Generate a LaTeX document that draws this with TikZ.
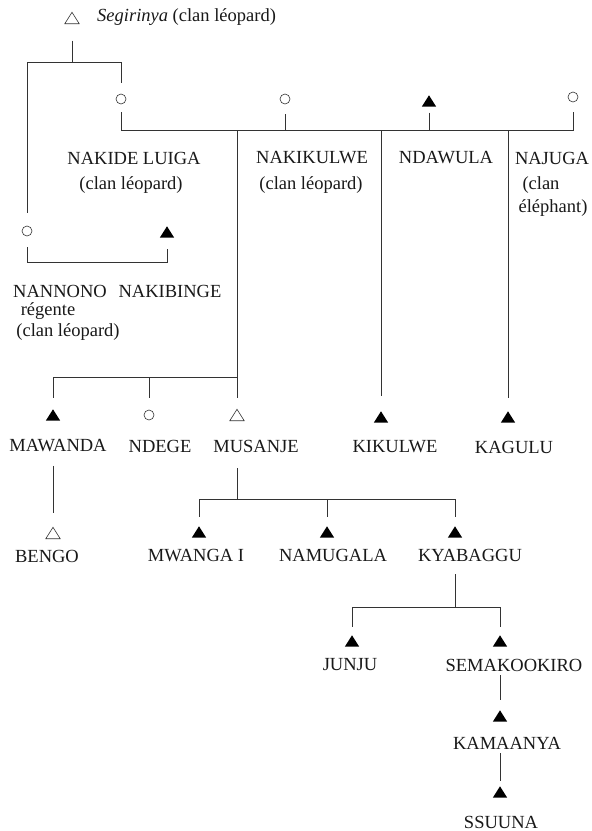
\documentclass[tikz,border=0pt]{standalone}
\usepackage{fontspec}
\setmainfont{Liberation Serif}
\newcommand\labfont{\fontsize{18.5}{22}\selectfont}
\begin{document}
\begin{tikzpicture}[x=1pt,y=-1pt,
  ln/.style={line width=0.9pt, draw=black!80},
  sym/.style={rectangle, minimum width=14pt, minimum height=11pt, inner sep=0pt},
  circ/.style={circle, draw=black!80, line width=0.6pt, minimum size=10pt, inner sep=0pt},
  lab/.style={font=\labfont, inner sep=0pt, text=black!90}]
\useasboundingbox (0,0) rectangle (592,831);
\fill[white] (0,0) rectangle (592,831);

% ---- symbols ----
\node[sym] (segT) at (72,18) {};
\node[circ] (nakideC) at (121,99) {};
\node[circ] (nakikC) at (285,99) {};
\node[sym] (ndawT) at (429,101) {};
\node[circ] (najugaC) at (573,97) {};
\node[circ] (nannonoC) at (27,231) {};
\node[sym] (nakibT) at (167,232) {};
\node[sym] (mawT) at (53,415) {};
\node[circ] (ndegeC) at (149,415) {};
\node[sym] (musT) at (237,415) {};
\node[sym] (kikT) at (381,417) {};
\node[sym] (kagT) at (508,417) {};
\node[sym] (bengoT) at (53,533) {};
\node[sym] (mwaT) at (199,532) {};
\node[sym] (namT) at (327,532) {};
\node[sym] (kyaT) at (455,532) {};
\node[sym] (junT) at (352,641) {};
\node[sym] (semT) at (500,641) {};
\node[sym] (kamT) at (500,716) {};
\node[sym] (ssT) at (500,792) {};

\foreach \n in {segT,musT,bengoT}
  \draw[line width=0.6pt, black!80, line join=miter] (\n.south west) -- (\n.south east) -- (\n.north) -- cycle;
\foreach \n in {ndawT,nakibT,mawT,kikT,kagT,mwaT,namT,kyaT,junT,semT,kamT,ssT}
  \fill[black] (\n.south west) -- (\n.south east) -- (\n.north) -- cycle;

% ---- labels ----
\node[lab, anchor=west] (segL) at (97,17) {\textit{Segirinya} (clan léopard)};
\node[lab] (nakideL) at (134,158) {NAKIDE LUIGA};
\node[lab] (nakideL2) at (131,185) {(clan léopard)};
\node[lab] (nakikL) at (312,158) {NAKIKULWE};
\node[lab] (nakikL2) at (311,185) {(clan léopard)};
\node[lab] (ndawL) at (446,158) {NDAWULA};
\node[lab] (najugaL) at (552,158) {NAJUGA};
\node[lab] (najugaL2) at (541,185) {(clan};
\node[lab] (najugaL3) at (553,208) {éléphant)};
\node[lab] (nannonoL) at (60,291) {NANNONO};
\node[lab] (nakibL) at (170,291) {NAKIBINGE};
\node[lab] (nannonoL2) at (48,311) {régente};
\node[lab] (nannonoL3) at (68,332) {(clan léopard)};
\node[lab] (mawL) at (58,446) {MAWANDA};
\node[lab] (ndegeL) at (160,446) {NDEGE};
\node[lab] (musL) at (256,446) {MUSANJE};
\node[lab] (kikL) at (395,447) {KIKULWE};
\node[lab] (kagL) at (514,447) {KAGULU};
\node[lab] (bengoL) at (47,556) {BENGO};
\node[lab] (mwaL) at (196,556) {MWANGA I};
\node[lab] (namL) at (333,555) {NAMUGALA};
\node[lab] (kyaL) at (470,555) {KYABAGGU};
\node[lab] (junL) at (350,665) {JUNJU};
\node[lab] (semL) at (514,665) {SEMAKOOKIRO};
\node[lab] (kamL) at (507,743) {KAMAANYA};
\node[lab] (ssL) at (501,822) {SSUUNA};

% ---- junctions ----
\coordinate (j0) at (72,62);
\coordinate (j1) at (237,130);
\coordinate (j2) at (237,377);
\coordinate (j3) at (237,499);
\coordinate (j4) at (455,607);
\coordinate (j5) at (97,262);

% ---- connectors ----
\draw[ln, shorten <=17pt] (segT) -- (j0);
\draw[ln, shorten >=13pt] (j0) -| (nannonoC);
\draw[ln, shorten >=11pt] (j0) -| (nakideC);
\draw[ln, shorten <=8pt, shorten >=10pt] (nakideC) |- (j1 -| najugaC) -- (najugaC);
\draw[ln, shorten <=10pt] (nakikC) -- (nakikC |- j1);
\draw[ln, shorten <=6pt] (ndawT) -- (ndawT |- j1);
\draw[ln, shorten <=11pt, shorten >=11pt] (nannonoC) |- (j5 -| nakibT) -- (nakibT);
\draw[ln] (j1) -- (j2);
\draw[ln, shorten >=11.5pt] (j2) -- (musT);
\draw[ln, shorten >=11.5pt] (j2) -| (mawT);
\draw[ln, shorten >=12pt] (j2 -| ndegeC) -- (ndegeC);
\draw[ln, shorten >=15pt] (kikT |- j1) -- (kikT);
\draw[ln, shorten >=13.5pt] (kagT |- j1) -- (kagT);
\draw[ln, shorten <=13.5pt, shorten >=14.5pt] (mawT |- mawL.south) -- (bengoT);
\draw[ln, shorten <=16pt] (musT |- musL.south) -- (j3);
\draw[ln, shorten <=9.5pt, shorten >=9.5pt] (mwaT) |- (j3 -| kyaT) -- (kyaT);
\draw[ln, shorten >=9.5pt] (namT |- j3) -- (namT);
\draw[ln, shorten <=13pt] (kyaT |- kyaL.south) -- (j4);
\draw[ln, shorten <=8.5pt, shorten >=8.5pt] (junT) |- (j4 -| semT) -- (semT);
\draw[ln, shorten <=4pt, shorten >=10.5pt] (semT |- semL.south) -- (kamT);
\draw[ln, shorten <=4pt, shorten >=5pt] (kamT |- kamL.south) -- (ssT);
\end{tikzpicture}
\end{document}
